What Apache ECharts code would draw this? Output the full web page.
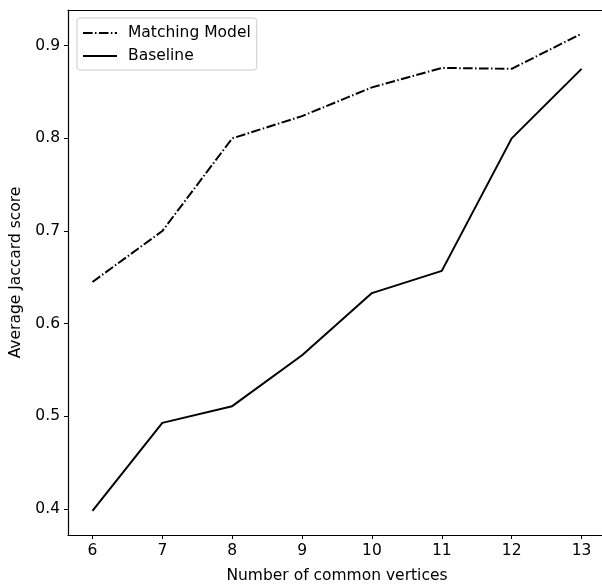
<!DOCTYPE html>
<html>
<head>
<meta charset="utf-8">
<script src="https://cdn.jsdelivr.net/npm/echarts@6/dist/echarts.min.js"></script>
<style>
  html, body { margin: 0; padding: 0; background: #fff; }
  #echarts { width: 602px; height: 584px; }
</style>
</head>
<body>
<div id="echarts"></div>
<script>
// number of common vertices
var vertices = [6, 7, 8, 9, 10, 11, 12, 13];
var matching = [0.645, 0.700, 0.800, 0.824, 0.855, 0.876, 0.875, 0.913];
var baseline = [0.398, 0.493, 0.511, 0.566, 0.633, 0.657, 0.800, 0.875];
var xTicks = [6, 7, 8, 9, 10, 11, 12, 13];
var yTicks = [0.4, 0.5, 0.6, 0.7, 0.8, 0.9];

var pairs = function (ys) {
    return vertices.map(function (v, i) { return [v, ys[i]]; });
};

var font = 'DejaVu Sans';
var fs = 15.5;
var myChart = echarts.init(document.getElementById('echarts'));
var option = {
    animation: false,
    textStyle: { fontFamily: font },
    grid: {
        left: 68,
        top: 10,
        width: 538,
        height: 525,
        outerBoundsMode: 'none',
        show: false
    },
    legend: {
        orient: 'vertical',
        left: 77,
        top: 18,
        data: ['Matching Model', 'Baseline'],
        itemWidth: 34,
        itemHeight: 12,
        itemGap: 7,
        padding: [7, 6, 6, 5],
        borderColor: '#ccc',
        borderWidth: 1,
        borderRadius: 3,
        backgroundColor: 'rgba(255,255,255,0.8)',
        itemStyle: { opacity: 0 },
        textStyle: { fontFamily: font, fontSize: fs, color: '#000', padding: [0, 0, 0, 6] }
    },
    xAxis: [
        {
            type: 'value',
            min: 5.65,
            max: 13.35,
            name: 'Number of common vertices',
            nameLocation: 'middle',
            nameGap: 33,
            nameTextStyle: { fontFamily: font, fontSize: fs, color: '#000' },
            splitLine: { show: false },
            axisLine: { lineStyle: { color: '#000', width: 1.2 } },
            axisTick: { show: true, length: 4, lineStyle: { color: '#000' }, customValues: xTicks },
            axisLabel: { color: '#000', fontSize: fs, margin: 8, customValues: xTicks }
        },
        {
            // top frame line
            type: 'value',
            position: 'top',
            min: 5.65,
            max: 13.35,
            splitLine: { show: false },
            axisLine: { show: true, lineStyle: { color: '#000', width: 1.2 } },
            axisTick: { show: false },
            axisLabel: { show: false }
        }
    ],
    yAxis: {
        type: 'value',
        min: 0.372,
        max: 0.9385,
        name: 'Average Jaccard score',
        nameLocation: 'middle',
        nameGap: 43,
        nameTextStyle: { fontFamily: font, fontSize: fs, color: '#000' },
        splitLine: { show: false },
        axisLine: { show: true, lineStyle: { color: '#000', width: 1.2 } },
        axisTick: { show: true, length: 4, lineStyle: { color: '#000' }, customValues: yTicks },
        axisLabel: {
            color: '#000', fontSize: fs, margin: 8, customValues: yTicks,
            formatter: function (v) { return v.toFixed(1); }
        }
    },
    series: [
        {
            name: 'Matching Model',
            type: 'line',
            symbol: 'none',
            data: pairs(matching),
            lineStyle: { color: '#000', width: 2, type: [9.6, 2.4, 1.5, 2.4] },
            itemStyle: { color: '#000' }
        },
        {
            name: 'Baseline',
            type: 'line',
            symbol: 'none',
            data: pairs(baseline),
            lineStyle: { color: '#000', width: 2 },
            itemStyle: { color: '#000' }
        }
    ]
};
myChart.setOption(option);
</script>
</body>
</html>
